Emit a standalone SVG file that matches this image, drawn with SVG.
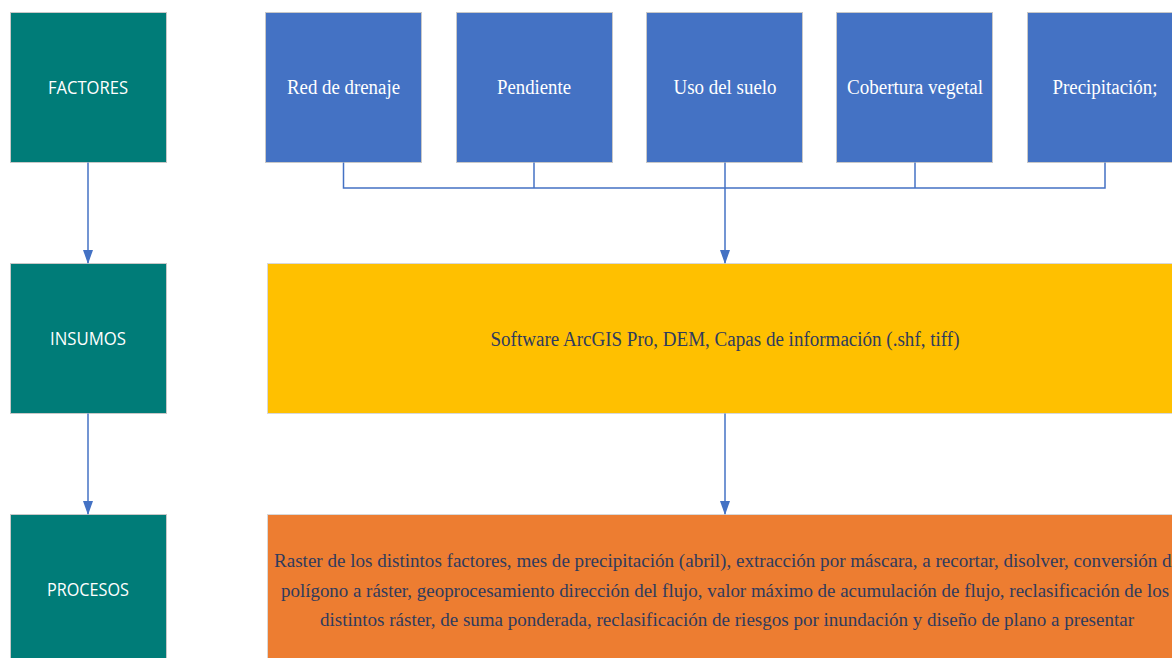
<svg xmlns="http://www.w3.org/2000/svg" width="1172" height="658" viewBox="0 0 1172 658">
<defs>
<style>
.teal{fill:#007C78;stroke:#C8C8C8;stroke-width:1}
.blue{fill:#4472C4;stroke:#C8C8C8;stroke-width:1}
.yel{fill:#FFC000;stroke:#D8D8D8;stroke-width:1}
.org{fill:#ED7D31;stroke:#D8D8D8;stroke-width:1}
.tl{font-family:"Open Sans","Liberation Sans",sans-serif;font-size:18px;fill:#FFFFFF;text-anchor:middle}
.bl{font-family:"Liberation Serif",serif;font-size:20px;fill:#FFFFFF;text-anchor:middle}
.dk{font-family:"Liberation Serif",serif;font-size:20px;fill:#2F3B5E;text-anchor:middle}
.dk2{font-family:"Liberation Serif",serif;font-size:19px;fill:#2F3B5E;text-anchor:middle}
.con{fill:none;stroke:#4472C4;stroke-width:1.5}
</style>
<marker id="ah" markerWidth="14" markerHeight="10" refX="13" refY="5" orient="auto" markerUnits="userSpaceOnUse">
<path d="M0,0 L14,5 L0,10 Z" fill="#4472C4"/>
</marker>
</defs>
<rect width="1172" height="658" fill="#FFFFFF"/>
<g id="factores"><rect class="teal" x="10.5" y="12.5" width="156" height="150"/><text class="tl" x="88" y="94" textLength="80" lengthAdjust="spacingAndGlyphs">FACTORES</text></g>
<g id="insumos"><rect class="teal" x="10.5" y="263.5" width="156" height="150"/><text class="tl" x="88" y="345" textLength="76" lengthAdjust="spacingAndGlyphs">INSUMOS</text></g>
<g id="procesos"><rect class="teal" x="10.5" y="514.5" width="156" height="150"/><text class="tl" x="88" y="596" textLength="82" lengthAdjust="spacingAndGlyphs">PROCESOS</text></g>
<g id="red"><rect class="blue" x="265.5" y="12.5" width="156" height="150"/><text class="bl" x="343.5" y="94" textLength="113" lengthAdjust="spacingAndGlyphs">Red de drenaje</text></g>
<g id="pendiente"><rect class="blue" x="456.5" y="12.5" width="156" height="150"/><text class="bl" x="534" y="94" textLength="74" lengthAdjust="spacingAndGlyphs">Pendiente</text></g>
<g id="uso"><rect class="blue" x="646.5" y="12.5" width="156" height="150"/><text class="bl" x="725" y="94" textLength="103" lengthAdjust="spacingAndGlyphs">Uso del suelo</text></g>
<g id="cobertura"><rect class="blue" x="836.5" y="12.5" width="156" height="150"/><text class="bl" x="915" y="94" textLength="136" lengthAdjust="spacingAndGlyphs">Cobertura vegetal</text></g>
<g id="precipitacion"><rect class="blue" x="1027.5" y="12.5" width="156" height="150"/><text class="bl" x="1105" y="94" textLength="105" lengthAdjust="spacingAndGlyphs">Precipitación;</text></g>
<g id="software"><rect class="yel" x="267.5" y="263.5" width="916" height="150"/><text class="dk" x="725" y="346" textLength="469" lengthAdjust="spacingAndGlyphs">Software ArcGIS Pro, DEM, Capas de información (.shf, tiff)</text></g>
<g id="raster"><rect class="org" x="267.5" y="514.5" width="916" height="150"/>
<text class="dk2" x="727" y="567" textLength="906" lengthAdjust="spacingAndGlyphs">Raster de los distintos factores, mes de precipitación (abril), extracción por máscara, a recortar, disolver, conversión de</text>
<text class="dk2" x="725" y="597" textLength="888" lengthAdjust="spacingAndGlyphs">polígono a ráster, geoprocesamiento dirección del flujo, valor máximo de acumulación de flujo, reclasificación de los</text>
<text class="dk2" x="727" y="626" textLength="814" lengthAdjust="spacingAndGlyphs">distintos ráster, de suma ponderada, reclasificación de riesgos por inundación y diseño de plano a presentar</text>
</g>
<g id="connectors">
<path class="con" d="M343.5,162.5 V188 H1105 V162.5"/>
<path class="con" d="M534,162.5 V188"/>
<path class="con" d="M915,162.5 V188"/>
<path class="con" d="M725,162.5 V263" marker-end="url(#ah)"/>
<path class="con" d="M725,413.5 V514" marker-end="url(#ah)"/>
<path class="con" d="M88,162.5 V263" marker-end="url(#ah)"/>
<path class="con" d="M88,413.5 V514" marker-end="url(#ah)"/>
</g>
</svg>
